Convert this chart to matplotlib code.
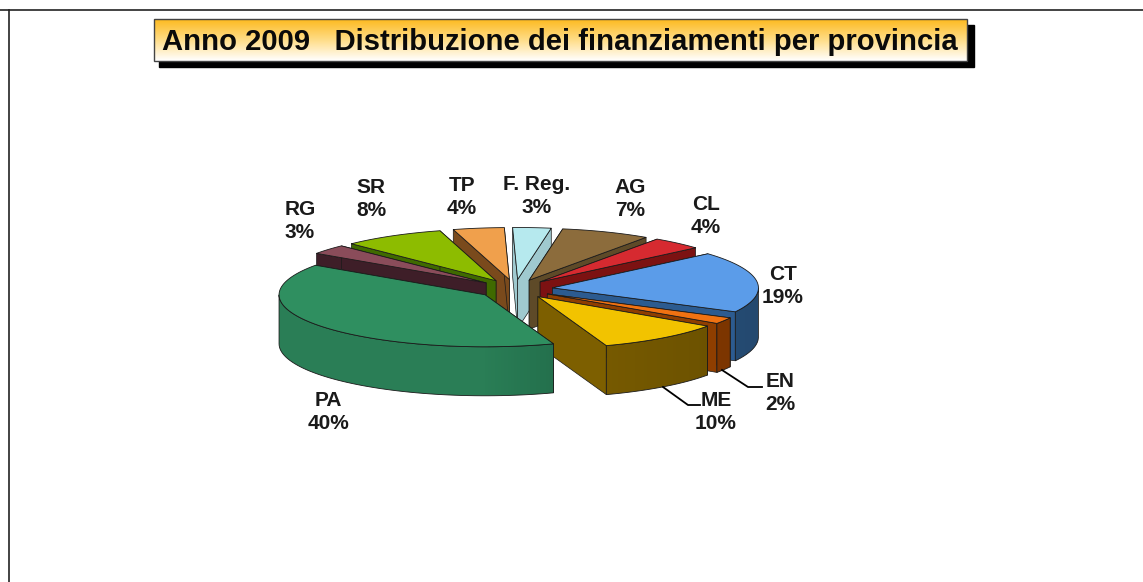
import numpy as np
import matplotlib
matplotlib.use("Agg")
import matplotlib.pyplot as plt
from matplotlib.colors import LinearSegmentedColormap
from matplotlib.patches import Polygon, Rectangle

plt.rcParams['font.family'] = ['Liberation Sans', 'DejaVu Sans']

# Datos de la torta
provinces = ["F. Reg.", "AG", "CL", "CT", "EN", "ME", "PA", "RG", "SR", "TP"]
percents = [3, 7, 4, 19, 2, 10, 40, 3, 8, 4]
top_colors = ["#B6E9EE", "#8C6C3C", "#D62A30", "#5B9CE9", "#F07212",
              "#F2C300", "#2F8F60", "#8A4C5A", "#8DBC00", "#F0A04C"]
wall_colors = ["#9FC9CF", "#5E4A28", "#7C1212", "#2C5B90", "#8F3E00",
               "#7D5F00", "#2A7E56", "#3E1E28", "#3F6A00", "#7A4A1C"]
wall_dark = ["#8DB5BA", "#4E3D20", "#5F0C0C", "#24496F", "#7A3400",
             "#6A5000", "#18563B", "#2E161E", "#2F5000", "#5F3A16"]
title = "Anno 2009   Distribuzione dei finanziamenti per provincia"

# Posicion de las etiquetas (pixeles)
label_x = [537, 630, 706, 783, 780, 716, 328, 300, 371, 462]
label_y = [196, 199, 216, 286, 393, 412, 412, 221, 199, 197]

# Geometria de la torta
cx, cy = 515, 289
rx, ry = 206, 52
height = 49
explode = 0.183
start = -1.4  # grados, desde arriba en sentido horario

fig = plt.figure(figsize=(11.43, 5.82), dpi=100)
ax = fig.add_axes([0, 0, 1, 1])
ax.set_xlim(0, 1143)
ax.set_ylim(582, 0)
ax.set_autoscale_on(False)
ax.axis('off')

# Marco de la diapositiva
ax.plot([0, 1143], [9.5, 9.5], color="#222222", lw=1.2)
ax.plot([8.5, 8.5], [9.5, 582], color="#222222", lw=1.2)

# Cuadro del titulo con sombra y degradado
ax.add_patch(Rectangle((159, 25), 815, 42, color="black", zorder=2))
grad = LinearSegmentedColormap.from_list("t", ["#FDBA20", "#FFDD88", "#FFFFFF"])
ax.imshow(np.linspace(0, 1, 64).reshape(-1, 1), cmap=grad, aspect='auto',
          extent=(154, 967, 61, 19), zorder=3)
ax.add_patch(Rectangle((154, 19), 813, 42, fill=False, ec="#444444", lw=1, zorder=4))
ax.text(560, 42.5, title, fontsize=21.1, fontweight='bold', ha='center', va='center',
        color="#0a0a0a", zorder=5)


def point(theta, ox, oy):
    t = np.radians(theta)
    return ox + rx * np.sin(t), oy - ry * np.cos(t)


edges = start + np.concatenate([[0], np.cumsum(percents)]) * 360 / sum(percents)
mids = (edges[:-1] + edges[1:]) / 2

# De atras hacia adelante; PA va al final porque tapa a ME
order = sorted(range(len(percents)), key=lambda i: -np.cos(np.radians(mids[i])))
order.remove(provinces.index("PA"))
order.append(provinces.index("PA"))

z = 10
for i in order:
    a, b = edges[i], edges[i + 1]
    ox = cx + explode * rx * np.sin(np.radians(mids[i]))
    oy = cy - explode * ry * np.cos(np.radians(mids[i]))

    # Paredes radiales
    for th in (a, b):
        px, py = point(th, ox, oy)
        ax.add_patch(Polygon([(ox, oy), (px, py), (px, py + height), (ox, oy + height)],
                             fc=wall_colors[i], ec="#1a1a1a", lw=0.5, zorder=z))
        z += 1

    # Pared curva con degradado, solo la parte visible
    lo, hi = max(a, 90), min(b, 270)
    if lo < hi:
        ths = np.linspace(lo, hi, 60)
        xs, ys = point(ths, ox, oy)
        wall = Polygon(list(zip(xs, ys)) + list(zip(xs[::-1], ys[::-1] + height)),
                       fc="none", ec="#1a1a1a", lw=0.6, zorder=z + 1)
        ax.add_patch(wall)
        cmap = LinearSegmentedColormap.from_list("w", [wall_colors[i], wall_colors[i], wall_dark[i]])
        img = ax.imshow(np.linspace(0, 1, 128).reshape(1, -1), cmap=cmap, aspect='auto',
                        extent=(ox - rx, ox + rx, oy + ry + height, oy - ry), zorder=z)
        img.set_clip_path(wall)
        z += 2

    # Cara superior
    ths = np.linspace(a, b, 80)
    xs, ys = point(ths, ox, oy)
    ax.add_patch(Polygon([(ox, oy)] + list(zip(xs, ys)), fc=top_colors[i], ec="#1a1a1a",
                         lw=0.6, joinstyle='round', zorder=z))
    z += 1

# Lineas guia de EN y ME
ax.plot([722, 748, 762], [370, 387, 387], color="black", lw=1.3, zorder=z)
ax.plot([663, 688, 700], [387, 405, 405], color="black", lw=1.3, zorder=z)

# Etiquetas
for name, pct, x, y in zip(provinces, percents, label_x, label_y):
    ax.text(x, y, f"{name}\n{pct}%", fontsize=15, fontweight='bold', ha='center',
            va='center', linespacing=1.3, color="#1a1a1a", zorder=z + 1)

fig.savefig("out.png", dpi=100)
